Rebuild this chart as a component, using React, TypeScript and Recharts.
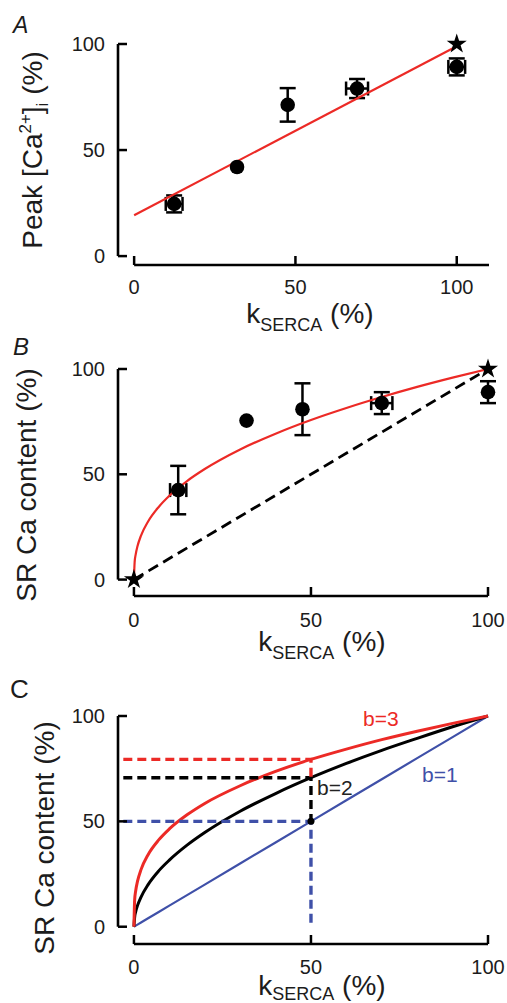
import React from 'react';
import { ComposedChart, Line, Scatter, XAxis, YAxis, ErrorBar, ReferenceLine, Symbols } from 'recharts';

// ---------- Panel A data ----------
const aK = [12.4, 31.9, 47.6, 69.1, 100];
const aPeak = [24.6, 42.0, 71.3, 79.0, 89.2];
const aErrY = [4.0, 0, 7.9, 4.5, 4.0];
const aErrX = [2.6, 0, 0, 3.4, 2.6];
const aStarK = [100];
const aStarPeak = [100];
const aFitK = [0, 100];
const aFitPeak = [19.3, 98.9];

// ---------- Panel B data ----------
const bK = [12.5, 31.8, 47.6, 70.0, 100];
const bSR = [42.5, 75.5, 80.9, 83.8, 89.0];
const bErrY = [11.5, 0, 12.3, 5.2, 5.2];
const bErrX = [2.3, 0, 0, 3.0, 0];
const bStarK = [0, 100];
const bStarSR = [0, 100];
const bFitK = [0, 0.2, 0.5, 1, 2, 4, 7, 10, 15, 20, 30, 40, 50, 60, 70, 80, 90, 100];
const bFitSR = [0, 8.3, 12.0, 15.8, 20.9, 27.6, 34.5, 39.8, 46.8, 52.5, 61.8, 69.3, 75.8, 81.5, 86.7, 91.5, 95.9, 100];
const bLinK = [0, 100];
const bLinSR = [0, 100];

// ---------- Panel C data ----------
const cK = [0, 0.2, 0.5, 1, 2, 4, 7, 10, 15, 20, 30, 40, 50, 60, 70, 80, 90, 100];
const cB1 = [0, 0.2, 0.5, 1, 2, 4, 7, 10, 15, 20, 30, 40, 50, 60, 70, 80, 90, 100];
const cB2 = [0, 4.5, 7.1, 10, 14.1, 20, 26.5, 31.6, 38.7, 44.7, 54.8, 63.2, 70.7, 77.5, 83.7, 89.4, 94.9, 100];
const cB3 = [0, 12.6, 17.1, 21.5, 27.1, 34.2, 41.2, 46.4, 53.1, 58.5, 66.9, 73.7, 79.4, 84.3, 88.8, 92.8, 96.5, 100];
const cRedGuideK = [-3, 50, 50];
const cRedGuideSR = [79.4, 79.4, 70.7];
const cBlackGuideK = [-3, 50, 50];
const cBlackGuideSR = [70.7, 70.7, 50];
const cBlueGuideK = [-3, 50, 50];
const cBlueGuideSR = [50, 50, 0];
const cDotK = [50];
const cDotSR = [50];

const ticks = [0, 50, 100];

const RED = '#ec2a26';
const BLUE = '#3f50a8';
const INK = '#1c1c1c';
const FONT = '"Liberation Sans", Arial, Helvetica, sans-serif';

const zip = (xs: number[], ys: number[]) => xs.map((x, i) => ({ x, y: ys[i] }));
const zipErr = (xs: number[], ys: number[], ex: number[], ey: number[]) =>
  xs.map((x, i) => ({ x, y: ys[i], ex: ex[i], ey: ey[i] }));

const Dot = (r: number) => (p: any) => <circle cx={p.cx} cy={p.cy} r={r} fill="#000" />;
const Star = (p: any) => <Symbols cx={p.cx} cy={p.cy} type="star" size={125} fill="#000" />;

const tickStyle = { fontSize: 20, fill: INK, fontFamily: FONT };

function axes(xDomain: [number, number], yDomain: [number, number], xTickMargin: number) {
  return [
    <XAxis
      key="x"
      xAxisId={0}
      type="number"
      dataKey="x"
      domain={xDomain}
      ticks={ticks}
      axisLine={false}
      tickSize={-9}
      tickMargin={xTickMargin}
      tickLine={{ stroke: '#000', strokeWidth: 2.5 }}
      tick={tickStyle}
      height={40}
      interval={0}
    />,
    <YAxis
      key="y"
      yAxisId={0}
      type="number"
      dataKey="y"
      domain={yDomain}
      ticks={ticks}
      axisLine={false}
      tickSize={-9}
      tickMargin={22}
      tickLine={{ stroke: '#000', strokeWidth: 2.5 }}
      tick={tickStyle}
      width={60}
      interval={0}
    />,
  ];
}

function PanelA() {
  const xMin = -5;
  const yMin = -4.2;
  return (
    <ComposedChart width={507} height={340} margin={{ top: 44, right: 18, bottom: 35, left: 58 }}>
      {axes([xMin, 110], [yMin, 100], 24)}
      <ReferenceLine segment={[{ x: xMin, y: 0 }, { x: xMin, y: 100 }]} stroke="#000" strokeWidth={2.6} ifOverflow="visible" />
      <ReferenceLine segment={[{ x: 0, y: yMin }, { x: 110, y: yMin }]} stroke="#000" strokeWidth={2.6} ifOverflow="visible" />
      <Scatter data={zipErr(aK, aPeak, aErrX, aErrY)} shape={Dot(7.3)} isAnimationActive={false}>
        <ErrorBar dataKey="ey" direction="y" width={8} stroke="#000" strokeWidth={2.5} />
        <ErrorBar dataKey="ex" direction="x" width={7} stroke="#000" strokeWidth={2.5} />
      </Scatter>
      <Line data={zip(aFitK, aFitPeak)} dataKey="y" type="linear" stroke={RED} strokeWidth={2.2} dot={false} isAnimationActive={false} />
      <Scatter data={zip(aStarK, aStarPeak)} shape={Star} isAnimationActive={false} />
    </ComposedChart>
  );
}

function PanelB() {
  const xMin = -4.5;
  const yMin = -7.8;
  return (
    <ComposedChart width={507} height={340} margin={{ top: 39, right: 19, bottom: 34, left: 58 }}>
      {axes([xMin, 100], [yMin, 100], 26)}
      <ReferenceLine segment={[{ x: xMin, y: 0 }, { x: xMin, y: 100 }]} stroke="#000" strokeWidth={2.6} ifOverflow="visible" />
      <ReferenceLine segment={[{ x: 0, y: yMin }, { x: 100, y: yMin }]} stroke="#000" strokeWidth={2.6} ifOverflow="visible" />
      <Line data={zip(bLinK, bLinSR)} dataKey="y" type="linear" stroke="#000" strokeWidth={2.8} strokeDasharray="11 6" dot={false} isAnimationActive={false} />
      <Scatter data={zipErr(bK, bSR, bErrX, bErrY)} shape={Dot(7.3)} isAnimationActive={false}>
        <ErrorBar dataKey="ey" direction="y" width={8} stroke="#000" strokeWidth={2.5} />
        <ErrorBar dataKey="ex" direction="x" width={7} stroke="#000" strokeWidth={2.5} />
      </Scatter>
      <Line data={zip(bFitK, bFitSR)} dataKey="y" type="monotone" stroke={RED} strokeWidth={2.2} dot={false} isAnimationActive={false} />
      <Scatter data={zip(bStarK, bStarSR)} shape={Star} isAnimationActive={false} />
    </ComposedChart>
  );
}

function PanelC() {
  const xMin = -4.5;
  const yMin = -8.2;
  return (
    <ComposedChart width={507} height={333} margin={{ top: 46, right: 19, bottom: 19, left: 58 }}>
      {axes([xMin, 100], [yMin, 100], 25)}
      <ReferenceLine segment={[{ x: xMin, y: 0 }, { x: xMin, y: 100 }]} stroke="#000" strokeWidth={2.6} ifOverflow="visible" />
      <ReferenceLine segment={[{ x: 0, y: yMin }, { x: 100, y: yMin }]} stroke="#000" strokeWidth={2.6} ifOverflow="visible" />
      <Line data={zip(cK, cB1)} dataKey="y" type="linear" stroke={BLUE} strokeWidth={2.2} dot={false} isAnimationActive={false} />
      <Line data={zip(cK, cB2)} dataKey="y" type="monotone" stroke="#000" strokeWidth={3} dot={false} isAnimationActive={false} />
      <Line data={zip(cK, cB3)} dataKey="y" type="monotone" stroke={RED} strokeWidth={3} dot={false} isAnimationActive={false} />
      <Line data={zip(cBlueGuideK, cBlueGuideSR)} dataKey="y" type="linear" stroke={BLUE} strokeWidth={3.4} strokeDasharray="9 5" dot={false} isAnimationActive={false} />
      <Line data={zip(cBlackGuideK, cBlackGuideSR)} dataKey="y" type="linear" stroke="#000" strokeWidth={3.4} strokeDasharray="9 5" dot={false} isAnimationActive={false} />
      <Line data={zip(cRedGuideK, cRedGuideSR)} dataKey="y" type="linear" stroke={RED} strokeWidth={3.4} strokeDasharray="9 5" dot={false} isAnimationActive={false} />
      <Scatter data={zip(cDotK, cDotSR)} shape={Dot(3.5)} isAnimationActive={false} />
    </ComposedChart>
  );
}

function KLabel({ cx, y, sub = 8 }: { cx: number; y: number; sub?: number }) {
  return (
    <text x={cx} y={y} textAnchor="middle" fontSize={28} fill={INK} fontFamily={FONT}>
      k
      <tspan fontSize={18} dy={sub}>SERCA</tspan>
      <tspan dy={-sub}> (%)</tspan>
    </text>
  );
}

function Overlay() {
  return (
    <svg width={507} height={1003} style={{ position: 'absolute', left: 0, top: 0, pointerEvents: 'none' }}>
      <text x={13} y={33} fontSize={23} fontStyle="italic" fill={INK} fontFamily={FONT}>A</text>
      <text x={13} y={355} fontSize={24} fontStyle="italic" fill={INK} fontFamily={FONT}>B</text>
      <text x={10} y={698} fontSize={26} fill={INK} fontFamily={FONT}>C</text>

      <text transform="translate(42,150) rotate(-90)" textAnchor="middle" fontSize={28} fill={INK} fontFamily={FONT}>
        Peak [Ca
        <tspan fontSize={17} dy={-11}>2+</tspan>
        <tspan dy={11}>]</tspan>
        <tspan fontSize={17} dy={6}>i</tspan>
        <tspan dy={-6}> (%)</tspan>
      </text>
      <text transform="translate(36,485) rotate(-90)" textAnchor="middle" fontSize={28} fill={INK} fontFamily={FONT}>
        SR Ca content (%)
      </text>
      <text transform="translate(54,838) rotate(-90)" textAnchor="middle" fontSize={28} fill={INK} fontFamily={FONT}>
        SR Ca content (%)
      </text>

      <KLabel cx={310} y={323} />
      <KLabel cx={322} y={651} />
      <KLabel cx={322} y={995} sub={5} />

      <text x={363} y={726} fontSize={21} fill={RED} fontFamily={FONT}>b=3</text>
      <text x={317} y={795} fontSize={21} fill="#222" fontFamily={FONT}>b=2</text>
      <text x={422} y={782} fontSize={21} fill={BLUE} fontFamily={FONT}>b=1</text>
    </svg>
  );
}

export default function App() {
  return (
    <div style={{ position: 'absolute', left: 0, top: 0, width: 507, height: 1003, background: '#fff', fontFamily: FONT }}>
      <div style={{ position: 'absolute', left: 0, top: 0 }}>
        <PanelA />
      </div>
      <div style={{ position: 'absolute', left: 0, top: 330 }}>
        <PanelB />
      </div>
      <div style={{ position: 'absolute', left: 0, top: 670 }}>
        <PanelC />
      </div>
      <Overlay />
    </div>
  );
}
